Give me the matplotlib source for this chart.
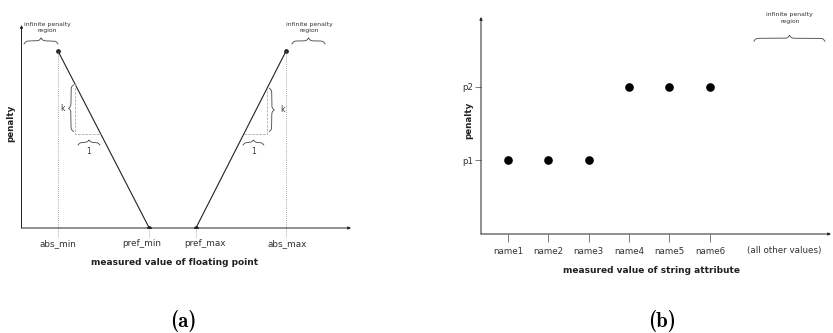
import numpy as np
import matplotlib
matplotlib.use("Agg")
import matplotlib.pyplot as plt
from matplotlib.transforms import ScaledTranslation

# ---------------- data ----------------
# (a) floating point attribute: penalty at the four break points
float_labels = ["abs_min", "pref_min", "pref_max", "abs_max"]
float_x = [1.0, 3.5, 4.78, 7.25]
float_penalty = [1.0, 0.0, 0.0, 1.0]

# (b) string attribute: one penalty per listed value
string_names = ["name1", "name2", "name3", "name4", "name5", "name6"]
string_pos = [1, 2, 3, 4, 5, 6]
string_penalty = [1, 1, 1, 2, 2, 2]
penalty_ticks = [1, 2]
penalty_labels = ["p1", "p2"]
other_label = "(all other values)"
other_pos = 7.83

INK = "#222222"
TXT = "#333333"


def brace(ax, p0, p1, depth=5.0, color="#444444", lw=0.6):
    """curly brace from p0 to p1 (data coords), tip on the left side of p0->p1"""
    tr = ax.transData
    a = tr.transform(p0)
    b = tr.transform(p1)
    d = b - a
    L = np.hypot(*d)
    d = d / L
    n = np.array([-d[1], d[0]])
    u = np.linspace(0, 0.5, 200)
    beta = L / 1.0
    half = 1 / (1 + np.exp(-beta * u)) + 1 / (1 + np.exp(-beta * (u - 0.5))) - 0.5
    v = np.concatenate([half, half[-2::-1]])
    uu = np.linspace(0, 1, len(v))
    pts = a + np.outer(uu * L, d) + np.outer(v * depth, n)
    xy = tr.inverted().transform(pts)
    ax.plot(xy[:, 0], xy[:, 1], color=color, lw=lw, clip_on=False)


def axis_arrows(ax):
    for s in ax.spines.values():
        s.set_visible(False)
    kw = dict(arrowstyle="-|>", lw=0.7, color=INK, mutation_scale=4, shrinkA=0, shrinkB=0)
    ax.annotate("", xy=(1, 0), xytext=(0, 0), xycoords="axes fraction", arrowprops=kw)
    ax.annotate("", xy=(0, 1), xytext=(0, 0), xycoords="axes fraction", arrowprops=kw)


fig = plt.figure(figsize=(8.33, 3.33), dpi=100)

# ---------------- (a) ----------------
axa = fig.add_axes([21.5 / 833, 105 / 333, 329.5 / 833, 203 / 333])
axa.set_xlim(0, 9.03)
axa.set_ylim(0, 1.147)
axis_arrows(axa)

axa.plot(float_x[:2], float_penalty[:2], color=INK, lw=0.8, marker="o", ms=2.4)
axa.plot(float_x[2:], float_penalty[2:], color=INK, lw=0.8, marker="o", ms=2.4)
for x, p in zip(float_x, float_penalty):
    axa.plot([x, x], [p, -0.05], color="#888888", lw=0.6, ls=(0, (1, 1.5)), clip_on=False)

axa.set_xticks(float_x)
axa.set_xticklabels(float_labels, fontsize=6.4, color=TXT)
axa.tick_params(axis="x", length=0, pad=8)
shifts = [0, -7, 9, 1]
for lab, dx in zip(axa.get_xticklabels(), shifts):
    lab.set_transform(lab.get_transform() + ScaledTranslation(dx / 100, 0, fig.dpi_scale_trans))
axa.set_yticks([])
axa.set_xlabel("measured value of floating point", fontsize=6.45, fontweight="bold", color=INK)
axa.xaxis.set_label_coords(0.466, -0.148)
axa.set_ylabel("penalty", fontsize=6.3, fontweight="bold", color=INK)
axa.yaxis.set_label_coords(-0.02, 0.517)

# slope triangles
x0, x1 = float_x[0], float_x[1]
sl = (float_penalty[0] - float_penalty[1]) / (x1 - x0)
xa, yb = 1.47, 0.53
ya = float_penalty[0] - sl * (xa - x0)
xb = x0 + (float_penalty[0] - yb) / sl
axa.plot([xa, xa, xb], [ya, yb, yb], color="#aaaaaa", lw=0.6, ls=(0, (3, 1.5)))
brace(axa, (1.425, 0.545), (1.425, 0.808))
axa.text(1.11, 0.678, "k", fontsize=5.5, color=TXT, ha="center", va="center")
brace(axa, (1.55, 0.469), (2.15, 0.469))
axa.text(1.85, 0.43, "1", fontsize=5.5, color=TXT, ha="center", va="center")

x2, x3 = float_x[2], float_x[3]
sr = (float_penalty[3] - float_penalty[2]) / (x3 - x2)
xc = 6.73
yc = float_penalty[2] + sr * (xc - x2)
xd = x2 + yb / sr
axa.plot([xd, xc, xc], [yb, yb, yc], color="#aaaaaa", lw=0.6, ls=(0, (3, 1.5)))
brace(axa, (6.79, 0.79), (6.79, 0.545))
axa.text(7.14, 0.667, "k", fontsize=5.5, color=TXT, ha="center", va="center")
brace(axa, (6.07, 0.469), (6.64, 0.469))
axa.text(6.35, 0.43, "1", fontsize=5.5, color=TXT, ha="center", va="center")

# infinite penalty regions
brace(axa, (0.07, 1.04), (float_x[0], 1.04), depth=6)
axa.text(0.70, 1.133, "infinite penalty\nregion", fontsize=4.4, color=TXT,
         ha="center", va="center", linespacing=1.4)
brace(axa, (7.41, 1.04), (8.32, 1.04), depth=6)
axa.text(7.88, 1.133, "infinite penalty\nregion", fontsize=4.4, color=TXT,
         ha="center", va="center", linespacing=1.4)

# ---------------- (b) ----------------
axb = fig.add_axes([481 / 833, 99 / 333, 350 / 833, 217 / 333])
axb.set_xlim(0.332, 9.0)
axb.set_ylim(0, 2.95)
axis_arrows(axb)

axb.plot(string_pos, string_penalty, ls="none", marker="o", ms=5.2, color="black")

axb.set_xticks(string_pos + [other_pos])
axb.set_xticklabels(string_names + [other_label], fontsize=6.3, color=TXT)
axb.tick_params(axis="x", length=6, width=0.6, color="#666666", pad=3, direction="out")
axb.xaxis.get_major_ticks()[-1].tick1line.set_visible(False)
axb.set_yticks(penalty_ticks)
axb.set_yticklabels(penalty_labels, fontsize=6.3, color=TXT)
axb.tick_params(axis="y", length=4.5, width=0.6, color="#666666", pad=1, direction="out")
axb.set_xlabel("measured value of string attribute", fontsize=6.45, fontweight="bold", color=INK)
axb.xaxis.set_label_coords(0.486, -0.147)
axb.set_ylabel("penalty", fontsize=6.3, fontweight="bold", color=INK)
axb.yaxis.set_label_coords(-0.023, 0.525)

brace(axb, (7.09, 2.62), (8.85, 2.62), depth=6)
axb.text(7.98, 2.94, "infinite penalty\nregion", fontsize=4.4, color=TXT,
         ha="center", va="center", linespacing=1.4)

fig.text(183 / 833, 1 - 321 / 333, "(a)", family="cmb10", fontsize=15, ha="center", va="center")
fig.text(662 / 833, 1 - 321 / 333, "(b)", family="cmb10", fontsize=15, ha="center", va="center")

fig.savefig("out.png", dpi=100)
